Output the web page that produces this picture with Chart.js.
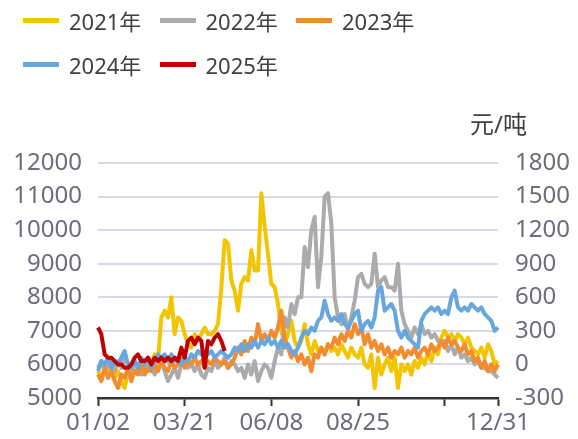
<!DOCTYPE html>
<html>
<head>
<meta charset="utf-8">
<script src="https://cdn.jsdelivr.net/npm/chart.js@4.4.1/dist/chart.umd.min.js"></script>
<style>
  body { margin: 0; background: #fff; }
  #wrap { position: relative; width: 578px; height: 439px; }
  #legend { position: absolute; left: 23px; top: -2px; width: 420px;
            font: 22px "Noto Sans", "Noto Sans CJK SC", sans-serif; color: #404040; }
  .item { display: inline-flex; align-items: center; width: 136.5px; height: 44px; }
  .swatch { width: 36px; height: 5px; margin-right: 10px; }
  #unit { position: absolute; left: 470px; top: 105px;
          font: 24px "Noto Sans", "Noto Sans CJK SC", sans-serif; color: #404040; }
</style>
</head>
<body>
<div id="wrap">
  <canvas id="myChart" width="578" height="439"></canvas>
  <div id="legend"></div>
  <div id="unit">元/吨</div>
</div>
<script>
// one slot every ~3 days, 01/02 .. 12/31
const tickSlots = [0, 26, 52, 78, 104, 120]
const tickLabels = ['01/02', '03/21', '06/08', '08/25', '', '12/31']

const s2021 = [
  5800,5600,5900,5700,6000,5600,5800,5500,5300,5800,
  5600,5800,6000,5900,6100,5900,6000,6300,6100,7400,
  7600,7400,8000,6900,7400,7300,6900,6600,6500,6900,
  6700,6900,7100,6900,6900,7000,7200,8300,9700,9600,
  8500,8200,7600,8400,8600,8500,9400,8800,8800,11100,
  10100,9300,8400,8300,7800,7000,6600,6900,7300,6700,
  6500,6700,7200,6600,6300,6700,6400,6500,6300,6600,
  6400,6500,6300,6600,6400,6200,6500,6300,6200,6500,
  6000,5900,6300,5300,6200,5700,6000,6200,5800,6200,
  5300,6000,5800,6000,5700,6100,5900,6200,6000,6400,
  6100,6500,6300,6800,7000,6800,6900,6700,6900,6800,
  6600,6800,6500,6400,6300,6500,6200,6600,6400,6000,
  6100
]
const s2022 = [
  5900,6100,5800,6000,6200,5800,6100,5900,6200,6000,
  5800,6100,5900,5700,6000,5800,6000,5700,5900,6100,
  5800,5500,5700,5900,5600,6000,6100,5900,6000,5800,
  6000,5700,5600,5900,5800,6100,5900,6000,6200,5900,
  6100,6000,5800,5900,5600,6000,5700,6100,5500,5800,
  6000,5900,5600,6100,6500,6300,7400,7100,7800,7500,
  8000,8000,9500,8900,10000,10400,8300,9200,11000,11100,
  10200,8000,7400,7200,7500,7000,7400,7900,8600,8700,
  8400,8300,8400,9300,8300,8500,8600,8300,8300,8200,
  9000,7600,7200,7000,6800,7100,6900,7200,6900,7000,
  6800,6900,6700,6600,6700,6400,6600,6300,6500,6200,
  6300,6100,6200,6000,6100,5900,5900,5800,5800,5700,
  5600
]
const s2023 = [
  5700,5500,5900,5600,5800,5500,5300,5700,5600,5900,
  5500,5800,5700,6000,5700,5900,5800,6000,5800,6100,
  5900,5800,6100,5900,6000,6200,5900,6100,6000,6200,
  6000,6100,5900,6100,6000,6200,6100,6000,6100,5900,
  6000,6200,6500,6300,6700,6400,6800,6600,7200,6700,
  6900,6700,7000,6800,7100,7600,6800,6500,6200,6400,
  6100,6300,6000,6200,5800,6300,6200,6500,6300,6600,
  6500,6800,6600,6900,6700,7000,6800,7200,6900,7100,
  6600,6900,6500,6700,6400,6600,6300,6500,6200,6400,
  6300,6500,6200,6400,6300,6500,6200,6400,6500,6300,
  6600,6400,6500,6700,6500,6800,6600,6700,6500,6400,
  6600,6300,6400,6100,6200,5900,6100,5800,6000,5800,
  6000
]
const s2024 = [
  5800,6100,6000,6200,5900,6100,6000,6200,6400,6000,
  5900,6100,5900,6200,6000,6200,5900,6100,6300,6200,
  6300,6100,6300,6100,6200,6000,6200,6100,6300,6200,
  6400,6300,6400,6300,6400,6200,6300,6400,6300,6200,
  6300,6500,6400,6600,6400,6600,6500,6700,6500,6700,
  6600,6800,6600,6700,6500,6700,6500,6600,6400,6300,
  6500,6800,7000,6900,7100,7000,7300,7400,7900,7500,
  7300,7400,7300,7500,7200,7100,7300,7500,7600,7000,
  7200,7300,7100,7400,8200,8300,7600,7700,7800,7600,
  7000,6800,7000,6800,6700,6600,6500,7300,7500,7600,
  7700,7600,7700,7500,7600,7500,8000,8200,7700,7600,
  7700,7600,7800,7700,7600,7700,7500,7400,7300,7000,
  7100
]
const s2025 = [
  7100,6900,6300,6200,6200,6100,6000,6000,5900,5900,
  6000,6200,6300,6100,6100,6200,6000,6200,6100,6200,
  6100,6200,6100,6200,6100,6500,6200,6700,6800,6600,
  6800,6700,5900,6700,6600,6800,6900,6700,6400
]

const days = s2021.map((v, i) => i)

const seriesNames = ['2021年', '2022年', '2023年', '2024年', '2025年']
const seriesData = [s2021, s2022, s2023, s2024, s2025]
const seriesColors = ['#F2C500', '#ABABAB', '#F28C2E', '#67A6DE', '#C00000']

const tickFont = { family: '"Noto Sans", "Noto Sans CJK SC", sans-serif', size: 24 }
const tickColor = '#6c6c7a'

// html legend, 3 items in the first row
const legend = document.getElementById('legend')
seriesNames.forEach((name, i) => {
    const item = document.createElement('span')
    item.className = 'item'
    item.innerHTML = `<span class="swatch" style="background:${seriesColors[i]}"></span>${name}`
    legend.appendChild(item)
    if (i === 2) legend.appendChild(document.createElement('br'))
})

const ctx = document.getElementById('myChart').getContext('2d')
new Chart(ctx, {
    type: 'line',
    data: {
        labels: days,
        datasets: seriesNames.map((name, i) => ({
            label: name,
            data: seriesData[i],
            borderColor: seriesColors[i],
            borderWidth: 4,
            pointRadius: 0,
            tension: 0,
            borderJoinStyle: 'round',
            yAxisID: 'y',
            order: 5 - i, // later years on top
        }))
    },
    options: {
        responsive: false,
        animation: false,
        layout: { padding: { top: 163, left: 0, right: 0, bottom: 0 } },
        plugins: { legend: { display: false }, tooltip: { enabled: false } },
        scales: {
            x: {
                type: 'category',
                afterBuildTicks: s => { s.ticks = s.ticks.filter(t => tickSlots.includes(t.value)) },
                afterFit: s => { s.height = 41 },
                ticks: {
                    autoSkip: false, maxRotation: 0, padding: 3,
                    color: tickColor, font: tickFont,
                    callback: v => tickLabels[tickSlots.indexOf(v)]
                },
                grid: { drawOnChartArea: false, drawTicks: true, tickLength: 8, tickColor: '#333', tickWidth: 2 },
                border: { color: '#333', width: 2.5 }
            },
            y: {
                position: 'left',
                min: 5000, max: 12000,
                afterFit: s => { s.width = 98 },
                ticks: { stepSize: 1000, padding: 16, color: tickColor, font: tickFont, callback: v => v },
                grid: { color: '#d6d9e6', lineWidth: 2, drawTicks: false },
                border: { display: false }
            },
            y1: {
                position: 'right',
                min: -300, max: 1800,
                afterFit: s => { s.width = 80 },
                ticks: { stepSize: 300, padding: 17, color: tickColor, font: tickFont, callback: v => v },
                grid: { drawOnChartArea: false, drawTicks: false },
                border: { display: false }
            }
        }
    }
})
</script>
</body>
</html>
